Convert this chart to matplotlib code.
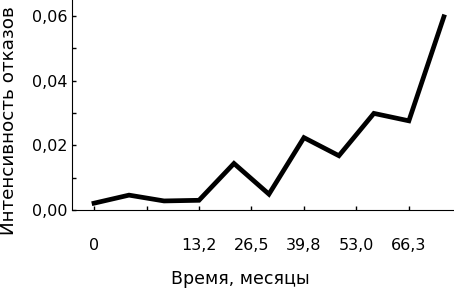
import matplotlib
matplotlib.use("Agg")
import matplotlib.pyplot as plt

# failure intensity per observation interval
intensity = [0.0021, 0.0046, 0.0028, 0.0030, 0.0144, 0.0049,
             0.0224, 0.0168, 0.0299, 0.0276, 0.0598]
interval = list(range(len(intensity)))

x_tick_pos = [0, 1.5, 3, 4.5, 6, 7.5, 9]
x_tick_labels = ['0', '', '13,2', '26,5', '39,8', '53,0', '66,3']
y_ticks = [0.00, 0.01, 0.02, 0.03, 0.04, 0.05, 0.06]
y_tick_labels = ['0,00', '', '0,02', '', '0,04', '', '0,06']

plt.rcParams['font.family'] = ['DejaVu Sans']

fig = plt.figure(figsize=(4.54, 2.89), dpi=100)
ax = fig.add_axes([0.1586, 0.2734, 0.8414, 0.7266])

ax.plot(interval, intensity, color='black', linewidth=3.4, solid_joinstyle='miter')

ax.set_xlim(-0.63, 10.29)
ax.set_ylim(0, 0.065)

ax.set_xticks(x_tick_pos)
ax.set_xticklabels(x_tick_labels)
ax.set_yticks(y_ticks)
ax.set_yticklabels(y_tick_labels)
ax.tick_params(axis='both', direction='in', length=3, width=1, labelsize=11.5)
ax.tick_params(axis='x', pad=20)
ax.tick_params(axis='y', pad=3)

ax.spines['top'].set_visible(False)
ax.spines['right'].set_visible(False)

ax.set_xlabel('Время, месяцы', fontsize=12.5)
ax.xaxis.set_label_coords(0.44, -0.285)
ax.set_ylabel('Интенсивность отказов', fontsize=13.2, ha='left', va='top',
              rotation_mode='anchor')
ax.yaxis.set_label_coords(-0.188, -0.119)

fig.savefig('out.png', dpi=100)
